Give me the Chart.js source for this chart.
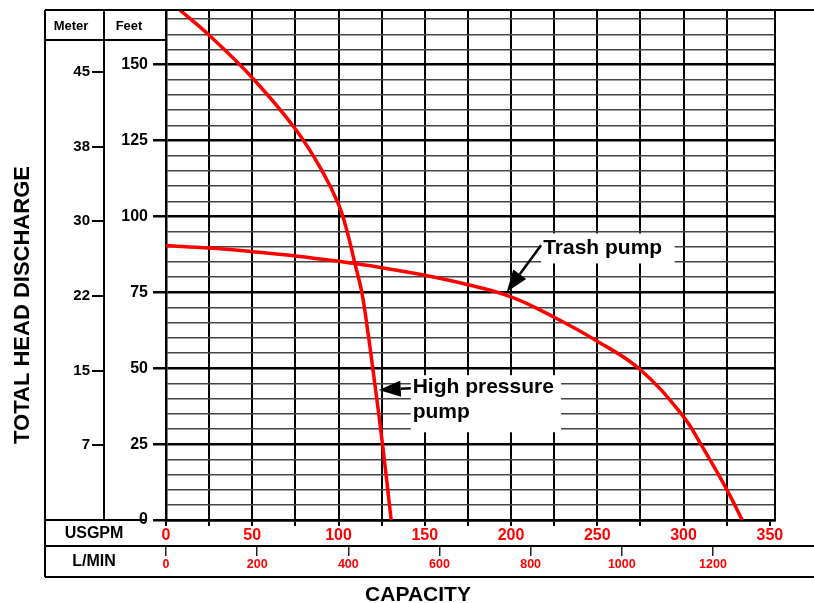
<!DOCTYPE html>
<html>
<head>
<meta charset="utf-8">
<title>Pump performance curves</title>
<script src="https://cdn.jsdelivr.net/npm/chart.js@4.4.0/dist/chart.umd.min.js"></script>
<style>
  html, body { margin: 0; padding: 0; background: #fff; }
  #wrap { width: 814px; height: 603px; position: relative; }
</style>
</head>
<body>
<div id="wrap"><canvas id="pumpChart"></canvas></div>
<script>
// capacity (USGPM) and head (ft)
const highPressureFlow = [8, 25, 50, 75, 90, 100, 105, 109.5, 113.5, 117, 121, 125.5, 130.5];
const highPressureHead = [168, 159.7, 145.7, 128.8, 115.5, 104, 95, 84.5, 75, 62, 45, 25, 0];
const trashFlow = [0, 25, 50, 75, 100, 125, 150, 175, 200, 225, 250, 275, 300, 310, 325, 334];
const trashHead = [90.4, 89.6, 88.4, 87, 85.2, 83.1, 80.6, 77.5, 73.5, 66.8, 58.9, 49.5, 34, 25, 10.1, 0];

// metre column: where the ticks sit (m) and what is printed next to them
const meterTicks = [7.5, 15, 22.5, 30, 37.5, 45];
const meterLabels = ['7', '15', '22', '30', '38', '45'];

const FT_PER_M = 3.2808;
const LPM_PER_GPM = 3.785;
const maxGpm = 353;
const maxFeet = 168;

const FONT = '"Liberation Sans", Arial, Helvetica, sans-serif';
Chart.defaults.font.family = FONT;
Chart.defaults.font.weight = 'bold';
Chart.defaults.color = '#000';

const toPoints = (xs, ys) => xs.map((x, i) => ({ x: x, y: ys[i] }));

// label boxes + arrows, in data units (GPM, ft)
const callouts = [
    { lines: ['Trash pump'], box: [217.4, 94.4, 294.8, 84.5], text: [218.6, 89.5], from: [217.4, 90.5], to: [197.5, 75.1] },
    { lines: ['High pressure', 'pump'], box: [141.9, 47.7, 229, 28.9], text: [143, 43.75], from: [141.9, 43.4], to: [123.3, 42.8] }
];

function drawArrow(ctx, x1, y1, x2, y2, headLen, headW) {
    const ang = Math.atan2(y2 - y1, x2 - x1);
    const bx = x2 - headLen * Math.cos(ang);
    const by = y2 - headLen * Math.sin(ang);
    ctx.beginPath();
    ctx.moveTo(x1, y1);
    ctx.lineTo(bx, by);
    ctx.stroke();
    ctx.beginPath();
    ctx.moveTo(x2, y2);
    ctx.lineTo(bx + headW * Math.sin(ang), by - headW * Math.cos(ang));
    ctx.lineTo(bx - headW * Math.sin(ang), by + headW * Math.cos(ang));
    ctx.closePath();
    ctx.fill();
}

const tablePlugin = {
    id: 'table',
    beforeDraw(chart) {
        const ctx = chart.ctx;
        ctx.save();
        ctx.fillStyle = '#fff';
        ctx.fillRect(0, 0, chart.width, chart.height);
        ctx.restore();
    },
    afterDatasetsDraw(chart) {
        const ctx = chart.ctx;
        const sx = chart.scales.x, sy = chart.scales.y;
        ctx.save();
        ctx.font = 'bold 21px ' + FONT;
        ctx.textBaseline = 'middle';
        callouts.forEach(c => {
            const x0 = sx.getPixelForValue(c.box[0]), y0 = sy.getPixelForValue(c.box[1]);
            const x1 = sx.getPixelForValue(c.box[2]), y1 = sy.getPixelForValue(c.box[3]);
            ctx.fillStyle = '#fff';
            ctx.fillRect(x0, y0, x1 - x0, y1 - y0);
            ctx.fillStyle = '#000';
            const tx = sx.getPixelForValue(c.text[0]);
            let ty = sy.getPixelForValue(c.text[1]);
            c.lines.forEach(line => {
                ctx.fillText(line, tx, ty);
                ty += 25;
            });
            ctx.strokeStyle = '#000';
            ctx.lineWidth = 2.5;
            drawArrow(ctx, sx.getPixelForValue(c.from[0]), sy.getPixelForValue(c.from[1]),
                sx.getPixelForValue(c.to[0]), sy.getPixelForValue(c.to[1]), 22, 8);
        });
        ctx.restore();
    },
    afterDraw(chart) {
        const ctx = chart.ctx;
        const area = chart.chartArea;
        const ym = chart.scales.y2, xg = chart.scales.x, xl = chart.scales.x2;
        const left = ym.left;
        ctx.save();
        ctx.strokeStyle = '#000';
        ctx.lineWidth = 2;
        const seg = (a, b, c, d) => { ctx.beginPath(); ctx.moveTo(a, b); ctx.lineTo(c, d); ctx.stroke(); };
        seg(left, area.top, chart.width, area.top);
        seg(left, area.top, left, xl.bottom);
        seg(left, area.top + 30, area.left, area.top + 30);
        seg(left, area.bottom, area.left - 19, area.bottom);
        seg(left, xg.bottom, chart.width, xg.bottom);
        seg(left, xl.bottom, chart.width, xl.bottom);
        seg(area.right, area.top, area.right, area.bottom);

        ctx.fillStyle = '#000';
        ctx.textAlign = 'center';
        ctx.textBaseline = 'middle';
        ctx.font = 'bold 13px ' + FONT;
        ctx.fillText('Meter', 71, 26);
        ctx.fillText('Feet', 129, 26);
        ctx.font = 'bold 16px ' + FONT;
        ctx.fillText('USGPM', 94, 534);
        ctx.fillText('L/MIN', 94, 562);
        ctx.font = 'bold 21px ' + FONT;
        ctx.fillText('CAPACITY', 418, 595);
        ctx.font = 'bold 22px ' + FONT;
        ctx.translate(23, 305);
        ctx.rotate(-Math.PI / 2);
        ctx.fillText('TOTAL HEAD DISCHARGE', 0, 0);
        ctx.restore();
    }
};

const noPad = s => { s.paddingTop = 0; s.paddingBottom = 0; };

const ctx = document.getElementById('pumpChart').getContext('2d');
const pumpChart = new Chart(ctx, {
    type: 'line',
    data: {
        datasets: [{
            label: 'High pressure pump',
            data: toPoints(highPressureFlow, highPressureHead),
            borderColor: '#ff0000',
            borderWidth: 3.5,
            pointRadius: 0,
            tension: 0.4,
            fill: false
        }, {
            label: 'Trash pump',
            data: toPoints(trashFlow, trashHead),
            borderColor: '#ff0000',
            borderWidth: 3.5,
            pointRadius: 0,
            tension: 0.4,
            fill: false
        }]
    },
    options: {
        responsive: true,
        maintainAspectRatio: false,
        animation: false,
        events: [],
        layout: { padding: { left: 45, right: 39, top: 10, bottom: 26 } },
        plugins: { legend: { display: false }, tooltip: { enabled: false } },
        scales: {
            x: {
                type: 'linear',
                position: 'bottom',
                weight: 1,
                min: 0,
                max: maxGpm,
                afterFit: s => { s.height = 26; },
                border: { color: '#000', width: 2.5 },
                grid: {
                    // the 350 line falls under the right-hand frame, only its tick shows
                    color: c => (c.tick && c.tick.value >= 350 ? 'rgba(0,0,0,0)' : '#000'),
                    tickColor: '#000',
                    lineWidth: 2,
                    tickLength: 6
                },
                ticks: {
                    stepSize: 25,
                    autoSkip: false,
                    includeBounds: false,
                    maxRotation: 0,
                    padding: 0,
                    color: '#ff0000',
                    font: { size: 16, weight: 'bold' },
                    callback: v => (v % 50 === 0 ? String(v) : '')
                }
            },
            x2: {
                type: 'linear',
                position: 'bottom',
                weight: 2,
                min: 0,
                max: maxGpm * LPM_PER_GPM,
                afterFit: s => { s.height = 31; },
                border: { display: false },
                grid: { drawOnChartArea: false, color: '#222', lineWidth: 1.5, tickLength: 10 },
                ticks: {
                    stepSize: 200,
                    autoSkip: false,
                    includeBounds: false,
                    maxRotation: 0,
                    padding: 1,
                    color: '#ff0000',
                    font: { size: 12.5, weight: 'bold' },
                    callback: v => String(v)
                }
            },
            y: {
                type: 'linear',
                position: 'left',
                weight: 1,
                min: 0,
                max: maxFeet,
                afterFit: s => { s.width = 62; noPad(s); },
                border: { color: '#000', width: 2.5 },
                grid: {
                    color: c => (c.tick && c.tick.value % 25 === 0 ? '#000' : '#444'),
                    lineWidth: c => (c.tick && c.tick.value % 25 === 0 ? 2.5 : 1.5),
                    tickColor: c => (c.tick && c.tick.value % 25 === 0 ? '#000' : 'rgba(0,0,0,0)'),
                    tickLength: 13
                },
                ticks: {
                    stepSize: 5,
                    autoSkip: false,
                    includeBounds: false,
                    padding: 5,
                    font: { size: 16, weight: 'bold' },
                    callback: v => (v % 25 === 0 ? String(v) : '')
                }
            },
            y2: {
                type: 'linear',
                position: 'left',
                weight: 2,
                min: 0,
                max: maxFeet / FT_PER_M,
                afterFit: s => { s.width = 59; noPad(s); },
                afterBuildTicks: s => { s.ticks = meterTicks.map(v => ({ value: v })); },
                border: { color: '#000', width: 2 },
                grid: { drawOnChartArea: false, color: '#000', lineWidth: 2, tickLength: 12 },
                ticks: {
                    autoSkip: false,
                    padding: 2,
                    font: { size: 15, weight: 'bold' },
                    callback: (v, i) => meterLabels[i]
                }
            }
        }
    },
    plugins: [tablePlugin]
});
</script>
</body>
</html>
